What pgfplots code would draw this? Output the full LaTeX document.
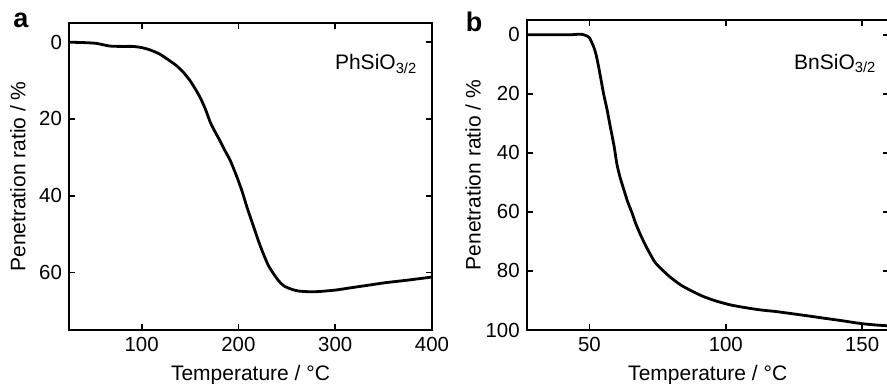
\documentclass[border=0pt]{standalone}
\usepackage{fontspec}
\setmainfont{Liberation Sans}
\usepackage{pgfplots}
\pgfplotsset{compat=1.18}
\begin{document}
\begin{tikzpicture}[x=1pt,y=1pt]
\pgfplotsset{
  panel/.style={
    scale only axis,
    anchor=south west,
    y dir=reverse,
    axis line style={line width=1pt},
    every tick/.style={black,line width=0.9pt},
    major tick length=3pt,
    tick align=inside,
    tick label style={font=\fontsize{10.2}{12}\selectfont},
    label style={font=\fontsize{10.5}{12}\selectfont},
    /pgf/number format/assume math mode=true,
    xlabel={Temperature / °C},
    ylabel={Penetration ratio / \%},
    clip=true,
  }
}
\begin{axis}[panel,
  at={(34.5pt,27pt)},
  width=181.5pt, height=153.5pt,
  xmin=25, xmax=400, ymin=-5, ymax=75,
  xtick={100,200,300,400}, ytick={0,20,40,60}]
\addplot[black, line width=1.4pt, smooth, tension=0.4, line join=round] coordinates {
(25.6,0)(40,0.1)(53,0.3)(67,1.0)(80,1.1)(91,1.1)(100,1.4)(108.6,2.0)(118,3.0)(126,4.3)(136,6.1)(143,7.8)(150,10)(155,12)(160.5,14.4)(166,17.5)(171,20.9)(176,23.4)(181,25.7)(186,28.2)(191.7,30.9)(198.6,35.2)(204,39)(209,43.1)(216,48.3)(221,52)(226,55.3)(231,58.2)(236.7,60.5)(242,62.3)(247,63.5)(254,64.3)(261,64.8)(270,65)(281.7,65)(300,64.6)(316,64)(335,63.3)(351,62.7)(375,62)(400,61.2)
};
\node[anchor=base east, font=\fontsize{10.5}{12}\selectfont] at (axis cs:392,7.2) {PhSiO\textsubscript{3/2}};
\end{axis}
\begin{axis}[panel,
  at={(263.35pt,27pt)},
  width=181pt, height=155pt,
  xmin=27, xmax=159.75, ymin=-5, ymax=100,
  ylabel shift=-4.5pt,
  xtick={50,100,150}, ytick={0,20,40,60,80,100}]
\addplot[black, line width=1.4pt, smooth, tension=0.4, line join=round] coordinates {
(27.4,0)(35,0)(43,0)(46.7,-0.2)(48.5,0.2)(50,1)(51.6,4.2)(52.5,7)(53.4,11)(54.3,15.5)(55.2,20)(56.5,25.5)(57.7,31.4)(59,37.5)(60.1,43.9)(61.3,48.5)(62.6,52.4)(64,56.5)(65.6,60.3)(67,64)(68.7,67.7)(70.5,71.2)(72.4,74.5)(74,77)(76,79)(79.5,82)(83.4,84.7)(87.5,86.8)(91.9,88.7)(96.5,90.2)(101.7,91.5)(107,92.4)(112.7,93.2)(118,93.7)(123.7,94.4)(130,95.2)(136,96)(143,96.9)(149.4,97.8)(155,98.3)(159.75,98.6)
};
\node[anchor=base east, font=\fontsize{10.5}{12}\selectfont] at (axis cs:157.8,11.6) {BnSiO\textsubscript{3/2}};
\end{axis}
\node[font=\bfseries\fontsize{13.5}{15}\selectfont] at (10.5,182) {a};
\node[font=\bfseries\fontsize{13.5}{15}\selectfont] at (237,181) {b};
\pgfresetboundingbox
\path (0,0) rectangle (443.5,192);
\end{tikzpicture}
\end{document}
